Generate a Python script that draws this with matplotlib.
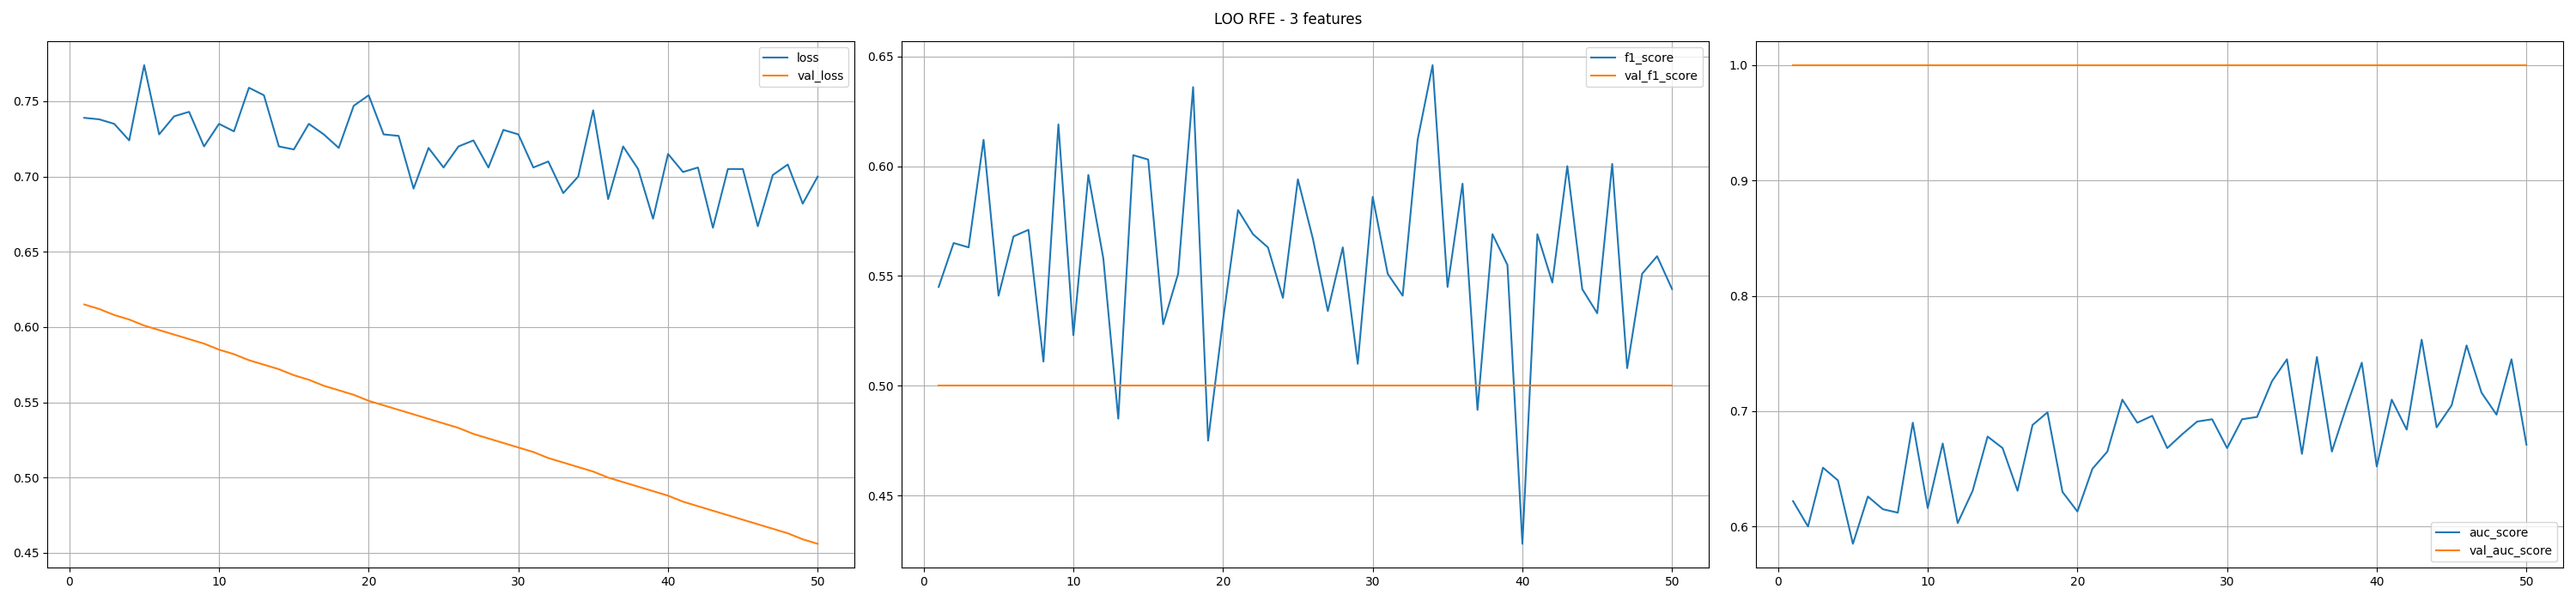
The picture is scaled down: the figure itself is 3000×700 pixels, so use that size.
import matplotlib
matplotlib.use('Agg')
import matplotlib.pyplot as plt

epochs = list(range(1, 51))

loss = [0.739, 0.738, 0.735, 0.724, 0.774, 0.728, 0.740, 0.743, 0.720, 0.735,
        0.730, 0.759, 0.754, 0.720, 0.718, 0.735, 0.728, 0.719, 0.747, 0.754,
        0.728, 0.727, 0.692, 0.719, 0.706, 0.720, 0.724, 0.706, 0.731, 0.728,
        0.706, 0.710, 0.689, 0.700, 0.744, 0.685, 0.720, 0.705, 0.672, 0.715,
        0.703, 0.706, 0.666, 0.705, 0.705, 0.667, 0.701, 0.708, 0.682, 0.700]
val_loss = [0.615, 0.612, 0.608, 0.605, 0.601, 0.598, 0.595, 0.592, 0.589, 0.585,
            0.582, 0.578, 0.575, 0.572, 0.568, 0.565, 0.561, 0.558, 0.555, 0.551,
            0.548, 0.545, 0.542, 0.539, 0.536, 0.533, 0.529, 0.526, 0.523, 0.520,
            0.517, 0.513, 0.510, 0.507, 0.504, 0.500, 0.497, 0.494, 0.491, 0.488,
            0.484, 0.481, 0.478, 0.475, 0.472, 0.469, 0.466, 0.463, 0.459, 0.456]

f1_score = [0.545, 0.565, 0.563, 0.612, 0.541, 0.568, 0.571, 0.511, 0.619, 0.523,
            0.596, 0.558, 0.485, 0.605, 0.603, 0.528, 0.551, 0.636, 0.475, 0.530,
            0.580, 0.569, 0.563, 0.540, 0.594, 0.567, 0.534, 0.563, 0.510, 0.586,
            0.551, 0.541, 0.612, 0.646, 0.545, 0.592, 0.489, 0.569, 0.555, 0.428,
            0.569, 0.547, 0.600, 0.544, 0.533, 0.601, 0.508, 0.551, 0.559, 0.544]
val_f1_score = [0.5] * 50

auc_score = [0.622, 0.600, 0.651, 0.640, 0.585, 0.626, 0.615, 0.612, 0.690, 0.616,
             0.672, 0.603, 0.631, 0.678, 0.668, 0.631, 0.688, 0.699, 0.630, 0.613,
             0.650, 0.665, 0.710, 0.690, 0.696, 0.668, 0.680, 0.691, 0.693, 0.668,
             0.693, 0.695, 0.726, 0.745, 0.663, 0.747, 0.665, 0.705, 0.742, 0.652,
             0.710, 0.684, 0.762, 0.686, 0.705, 0.757, 0.716, 0.697, 0.745, 0.671]
val_auc_score = [1.0] * 50

fig, axes = plt.subplots(1, 3, figsize=(30, 7), dpi=100)
panels = [
    (loss, val_loss, 'loss', 'val_loss', 'upper right'),
    (f1_score, val_f1_score, 'f1_score', 'val_f1_score', 'upper right'),
    (auc_score, val_auc_score, 'auc_score', 'val_auc_score', 'lower right'),
]
for ax, (tr, va, n1, n2, loc) in zip(axes, panels):
    ax.plot(epochs, tr, label=n1)
    ax.plot(epochs, va, label=n2)
    ax.grid(True)
    ax.legend(loc=loc)

fig.suptitle('LOO RFE - 3 features')
plt.tight_layout()
plt.savefig('out.png')
